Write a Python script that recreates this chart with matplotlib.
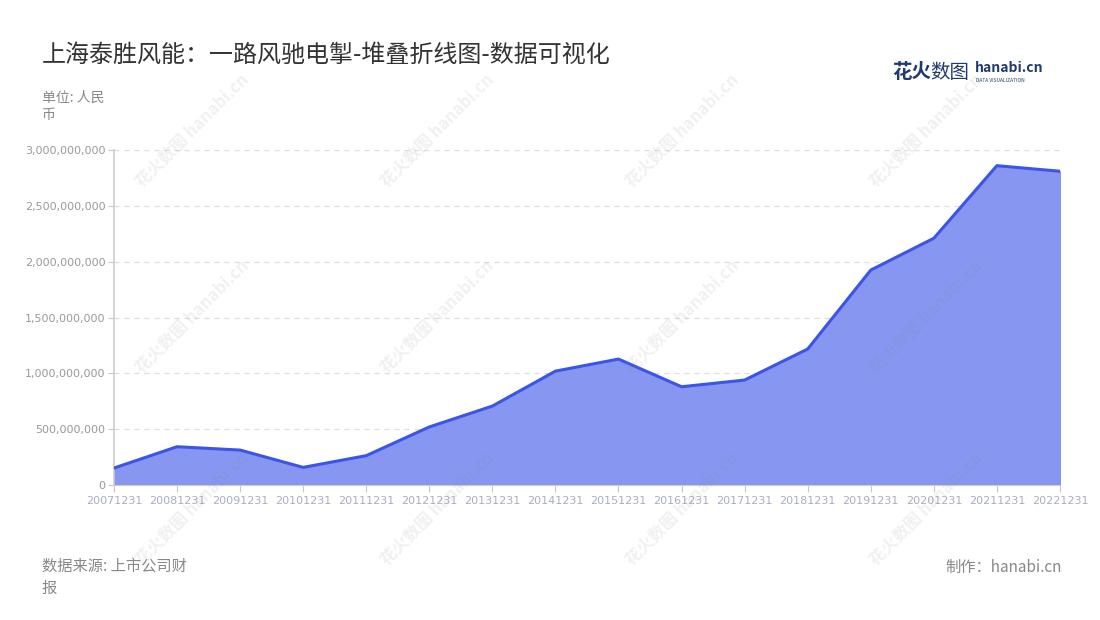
import matplotlib.pyplot as plt
from matplotlib.ticker import FuncFormatter

plt.rcParams['font.family'] = ['Noto Sans CJK SC', 'DejaVu Sans']

dates = ['20071231', '20081231', '20091231', '20101231', '20111231', '20121231',
         '20131231', '20141231', '20151231', '20161231', '20171231', '20181231',
         '20191231', '20201231', '20211231', '20221231']
values = [0.152e9, 0.343e9, 0.313e9, 0.158e9, 0.263e9, 0.52e9,
          0.707e9, 1.02e9, 1.128e9, 0.88e9, 0.94e9, 1.218e9,
          1.925e9, 2.21e9, 2.86e9, 2.81e9]
yticks = [0, 500000000, 1000000000, 1500000000, 2000000000, 2500000000, 3000000000]

fig = plt.figure(figsize=(11, 6.2), dpi=100)
ax = fig.add_axes([0.1036, 0.2177, 0.86, 0.5403])

x = list(range(len(dates)))
ax.fill_between(x, values, 0, color='#8796f1', zorder=2)
ax.plot(x, values, color='#3b54e9', lw=2.2, zorder=3)

ax.set_xlim(0, len(dates) - 1)
ax.set_ylim(0, 3e9)
ax.set_xticks(x)
ax.set_xticklabels(dates)
ax.set_yticks(yticks)
ax.yaxis.set_major_formatter(FuncFormatter(lambda v, p: f'{int(v):,}'))
ax.tick_params(axis='x', colors='#c8c8c8', labelcolor='#a9adc2', labelsize=8, length=5, pad=3)
ax.tick_params(axis='y', colors='#c8c8c8', labelcolor='#999999', labelsize=8, length=4, pad=2)
for lab in ax.get_xticklabels() + ax.get_yticklabels():
    lab.set_family(['DejaVu Sans'])

ax.grid(axis='y', color='#dddddd', ls=(0, (4, 4)), lw=0.9, zorder=1)
ax.set_axisbelow(True)
for s in ['top', 'right']:
    ax.spines[s].set_visible(False)
ax.spines['left'].set_color('#cccccc')
ax.spines['left'].set_linewidth(1.2)
ax.spines['bottom'].set_color('#cccccc')

# watermarks
for wx in [0.175, 0.397, 0.62, 0.842]:
    for wy in [0.79, 0.49, 0.18]:
        fig.text(wx, wy, '花火数图 hanabi.cn', rotation=45, color='#888888', alpha=0.12,
                 fontsize=12, fontweight='bold', ha='center', va='center', zorder=5)

fig.text(0.038, 0.911, '上海泰胜风能：一路风驰电掣-堆叠折线图-数据可视化', fontsize=17.3, color='#333333',
         va='center')
fig.text(0.038, 0.853, '单位: 人民\n币', fontsize=10, color='#888888', va='top', linespacing=1.3)
fig.text(0.038, 0.069, '数据来源: 上市公司财\n报', fontsize=11, color='#888888', va='center',
         linespacing=1.35)
fig.text(0.965, 0.085, '制作：hanabi.cn', fontsize=11, color='#888888', ha='right', va='center')

# logo
fig.text(0.811, 0.883, '花火', fontsize=14, fontweight='bold', color='#1f3a6e', va='center')
fig.text(0.846, 0.883, '数图', fontsize=14, color='#1f3a6e', va='center')
fig.text(0.886, 0.890, 'hanabi.cn', fontsize=10, fontweight='bold', color='#1f3a6e', va='center')
fig.text(0.887, 0.870, 'DATA VISUALIZATION', fontsize=3.5, color='#1f3a6e', va='center')

fig.savefig('out.png', dpi=100)
